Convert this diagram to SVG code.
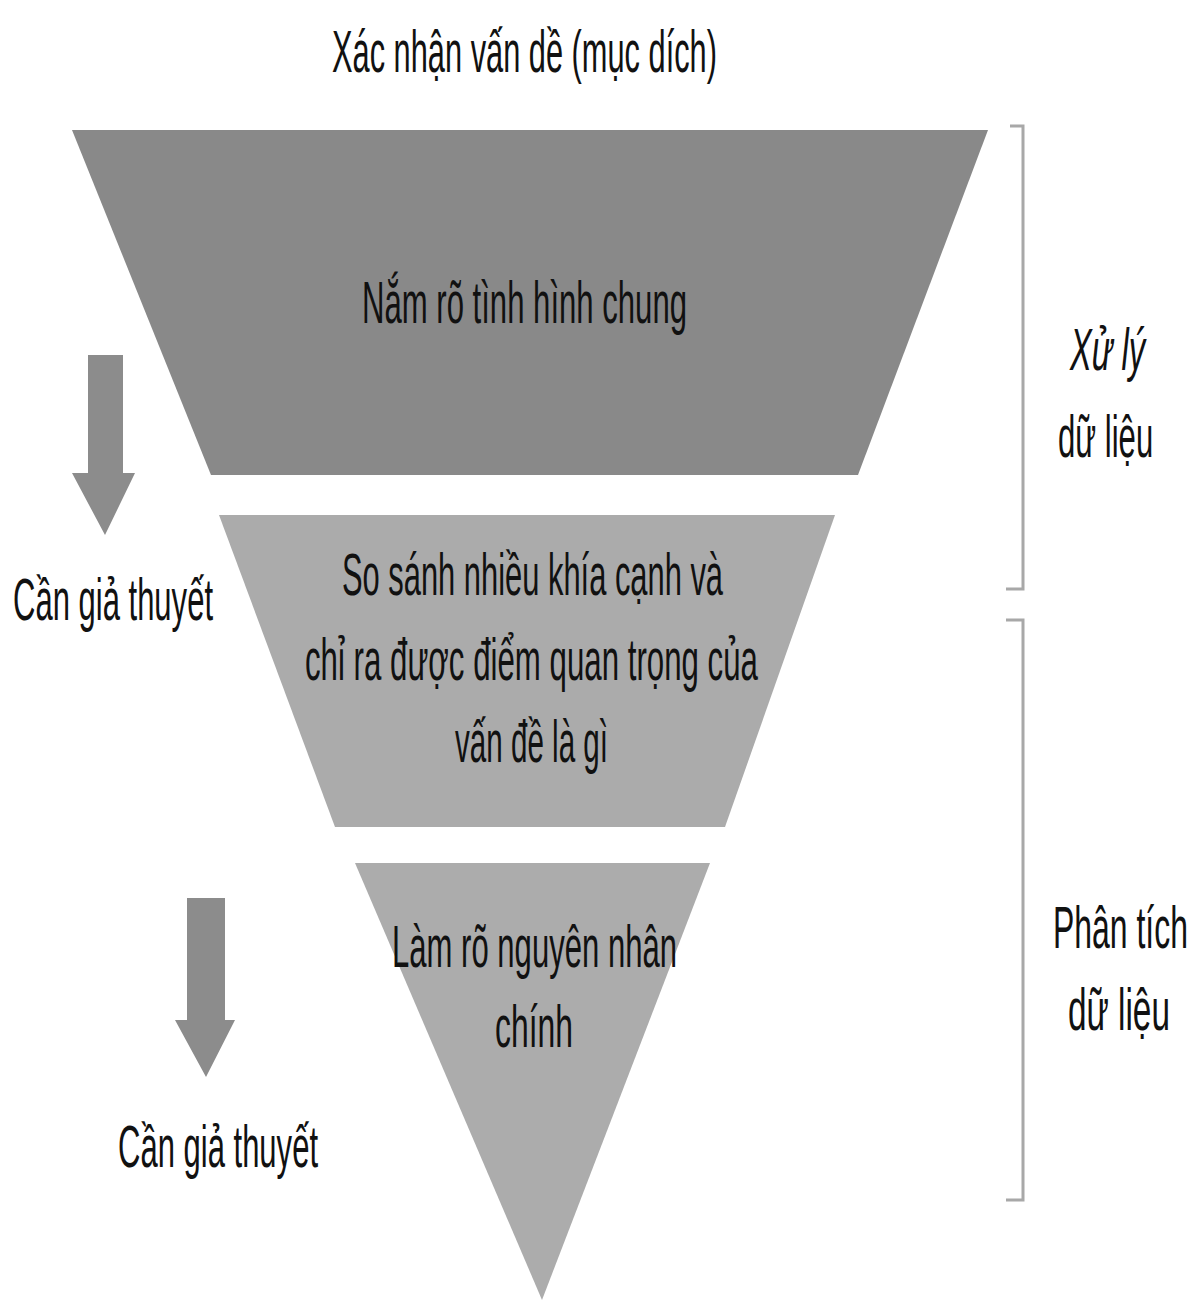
<svg xmlns="http://www.w3.org/2000/svg" width="1197" height="1302" viewBox="0 0 1197 1302">
<style>
text{font-family:"Liberation Sans","DejaVu Sans",sans-serif;font-size:60px;fill:#111;}
.bracket{fill:none;stroke:#a8a8a8;stroke-width:3;}
.arrow{fill:#8c8c8c;}
</style>
<rect width="1197" height="1302" fill="#ffffff"/>
<text x="332" y="72" textLength="385" lengthAdjust="spacingAndGlyphs">Xác nhận vấn dề (mục dích)</text>
<g id="level1">
<polygon points="72,130 988,130 858,475 211,475" fill="#898989"/>
<text x="362" y="323" textLength="325" lengthAdjust="spacingAndGlyphs">Nắm rõ tình hình chung</text>
</g>
<g id="level2">
<polygon points="219,515 835,515 725,827 335,827" fill="#ababab"/>
<text x="342" y="595" textLength="381" lengthAdjust="spacingAndGlyphs">So sánh nhiều khía cạnh và</text>
<text x="305" y="680" textLength="453" lengthAdjust="spacingAndGlyphs">chỉ ra được điểm quan trọng của</text>
<text x="455" y="762" textLength="153" lengthAdjust="spacingAndGlyphs">vấn đề là gì</text>
</g>
<g id="level3">
<polygon points="355,863 710,863 542,1300" fill="#acacac"/>
<text x="392" y="967" textLength="285" lengthAdjust="spacingAndGlyphs">Làm rõ nguyên nhân</text>
<text x="495" y="1047" textLength="78" lengthAdjust="spacingAndGlyphs">chính</text>
</g>
<g id="hypothesis1">
<path class="arrow" d="M88,355 H123 V473 H135 L105,535 L72,473 H88 Z"/>
<text x="13" y="620" textLength="200" lengthAdjust="spacingAndGlyphs">Cần giả thuyết</text>
</g>
<g id="hypothesis2">
<path class="arrow" d="M187,898 H225 V1020 H235 L206,1077 L175,1020 H187 Z"/>
<text x="118" y="1167" textLength="200" lengthAdjust="spacingAndGlyphs">Cần giả thuyết</text>
</g>
<g id="processing">
<path class="bracket" d="M1010,126 H1023 V589 H1006"/>
<text transform="translate(1070,370) scale(0.56,1)" x="0" y="0" textLength="134" lengthAdjust="spacingAndGlyphs" font-style="italic">Xử lý</text>
<text transform="translate(1058,457) scale(0.56,1)" x="0" y="0" textLength="170" lengthAdjust="spacingAndGlyphs">dữ liệu</text>
</g>
<g id="analysis">
<path class="bracket" d="M1006,620 H1023 V1200 H1006"/>
<text transform="translate(1053,948) scale(0.56,1)" x="0" y="0" textLength="241" lengthAdjust="spacingAndGlyphs">Phân tích</text>
<text transform="translate(1068,1030) scale(0.56,1)" x="0" y="0" textLength="182" lengthAdjust="spacingAndGlyphs">dữ liệu</text>
</g>
<g id="connectors"></g>
</svg>
